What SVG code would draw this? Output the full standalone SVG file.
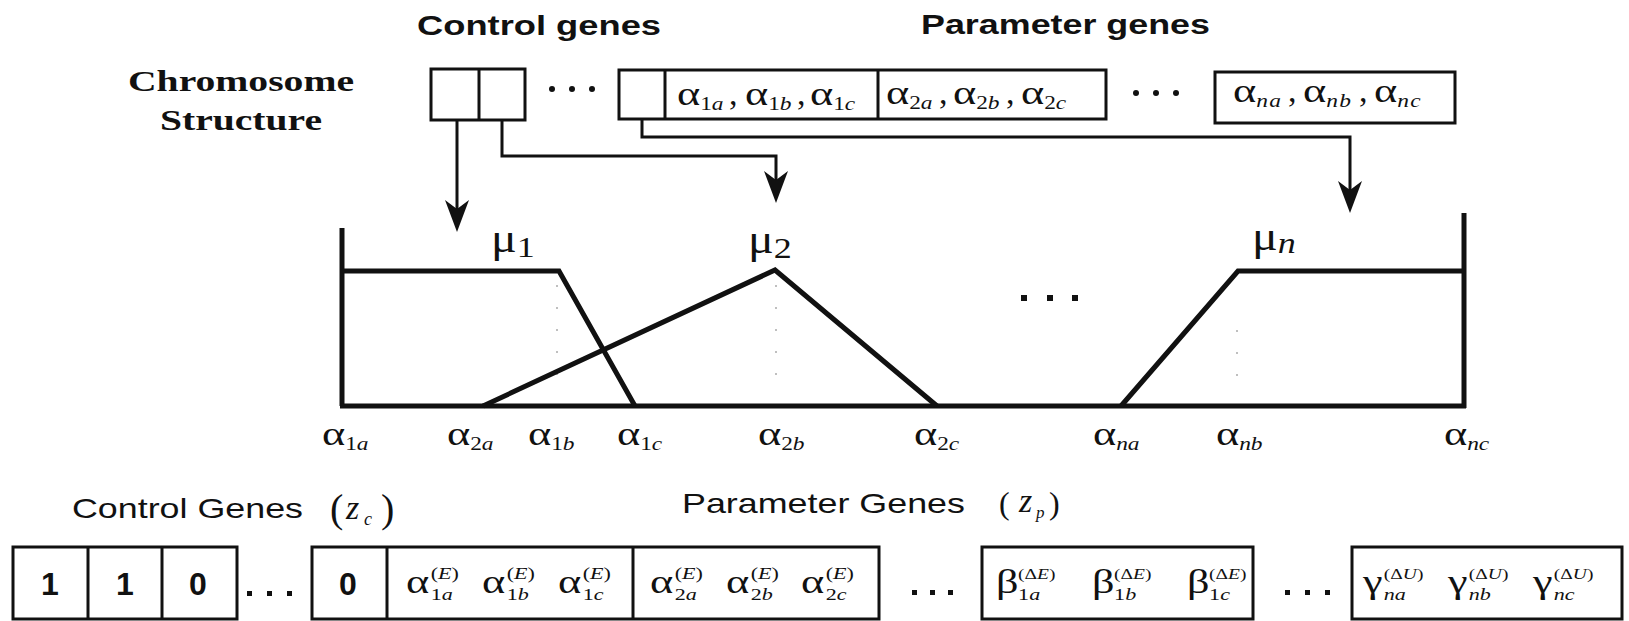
<svg xmlns="http://www.w3.org/2000/svg" width="1629" height="621" viewBox="0 0 1629 621">
<defs>
<style>
.hs{font-family:"Liberation Sans",Arial,sans-serif;font-weight:bold;font-size:28px;fill:#111}
.hl{font-family:"Liberation Sans",Arial,sans-serif;font-size:28px;fill:#111}
.tb{font-family:"Liberation Serif","Times New Roman",serif;font-weight:bold;font-size:30px;fill:#111}
.m{font-family:"Liberation Serif","Times New Roman",serif;fill:#111}
.i{font-style:italic}
.a34{font-size:34px}
.s18{font-size:18px}
.s17{font-size:17px}
.s15{font-size:15px}
.dg{font-family:"Liberation Sans",Arial,sans-serif;font-weight:bold;font-size:32px;fill:#111;text-anchor:middle}
.box{fill:none;stroke:#111;stroke-width:3}
.div{stroke:#111;stroke-width:3}
.conn{fill:none;stroke:#111;stroke-width:3}
.curve{fill:none;stroke:#111;stroke-width:5;stroke-linejoin:miter}
.guide{stroke:#aaa;stroke-width:1.5;stroke-dasharray:2 20}
.dot{fill:#111}
</style>
<marker id="arr" markerUnits="userSpaceOnUse" markerWidth="32" markerHeight="26" viewBox="0 0 32 26" refX="26" refY="13" orient="auto">
<path d="M0,1 L32,13 L0,25 L9,13 Z" fill="#111"/>
</marker>
</defs>
<rect width="1629" height="621" fill="#fff"/>

<g id="titles">
<text class="hs" x="417" y="35" textLength="244" lengthAdjust="spacingAndGlyphs">Control genes</text>
<text class="hs" x="921" y="34" textLength="289" lengthAdjust="spacingAndGlyphs">Parameter genes</text>
</g>

<g id="chromosome-label">
<text class="tb" x="128" y="91" textLength="226" lengthAdjust="spacingAndGlyphs">Chromosome</text>
<text class="tb" x="160" y="130" textLength="162" lengthAdjust="spacingAndGlyphs">Structure</text>
</g>

<g id="top-control-genes">
<rect class="box" x="431" y="69" width="94" height="51"/>
<line class="div" x1="479" y1="69" x2="479" y2="120"/>
<circle class="dot" cx="552" cy="89" r="3"/><circle class="dot" cx="572" cy="89" r="3"/><circle class="dot" cx="592" cy="89" r="3"/>
</g>

<g id="top-parameter-genes">
<rect class="box" x="619" y="70" width="487" height="49"/>
<line class="div" x1="665" y1="70" x2="665" y2="119"/>
<line class="div" x1="878" y1="70" x2="878" y2="119"/>
<g transform="translate(677,105) scale(1.3,1)"><text class="m a34">α<tspan class="s18" dy="5">1<tspan class="i">a</tspan></tspan></text></g>
<text class="m a34" x="729" y="105">,</text>
<g transform="translate(745,105) scale(1.3,1)"><text class="m a34">α<tspan class="s18" dy="5">1<tspan class="i">b</tspan></tspan></text></g>
<text class="m a34" x="797" y="105">,</text>
<g transform="translate(810,105) scale(1.3,1)"><text class="m a34">α<tspan class="s18" dy="5">1<tspan class="i">c</tspan></tspan></text></g>
<g transform="translate(886,104) scale(1.3,1)"><text class="m a34">α<tspan class="s18" dy="5">2<tspan class="i">a</tspan></tspan></text></g>
<text class="m a34" x="939" y="104">,</text>
<g transform="translate(953,104) scale(1.3,1)"><text class="m a34">α<tspan class="s18" dy="5">2<tspan class="i">b</tspan></tspan></text></g>
<text class="m a34" x="1006" y="104">,</text>
<g transform="translate(1021,104) scale(1.3,1)"><text class="m a34">α<tspan class="s18" dy="5">2<tspan class="i">c</tspan></tspan></text></g>
<circle class="dot" cx="1136" cy="93" r="3"/><circle class="dot" cx="1156" cy="93" r="3"/><circle class="dot" cx="1176" cy="93" r="3"/>
</g>

<g id="top-parameter-genes-n">
<rect class="box" x="1215" y="72" width="240" height="51"/>
<g transform="translate(1233,102) scale(1.3,1)"><text class="m a34">α<tspan class="s18 i" dy="5" letter-spacing="1">na</tspan></text></g>
<text class="m a34" x="1288" y="102">,</text>
<g transform="translate(1303,102) scale(1.3,1)"><text class="m a34">α<tspan class="s18 i" dy="5" letter-spacing="1">nb</tspan></text></g>
<text class="m a34" x="1359" y="102">,</text>
<g transform="translate(1374,102) scale(1.3,1)"><text class="m a34">α<tspan class="s18 i" dy="5" letter-spacing="1">nc</tspan></text></g>
</g>

<g id="connectors">
<path class="conn" d="M457,120 V226" marker-end="url(#arr)"/>
<path class="conn" d="M502,120 V156 H776 V197" marker-end="url(#arr)"/>
<path class="conn" d="M642,119 V137 H1350 V207" marker-end="url(#arr)"/>
</g>

<g id="membership-chart">
<line class="guide" x1="557" y1="285" x2="557" y2="392"/>
<line class="guide" x1="776" y1="285" x2="776" y2="392"/>
<line class="guide" x1="1237" y1="330" x2="1237" y2="392"/>
<path class="curve" d="M342,228 V406"/>
<path class="curve" d="M340,406 H1466"/>
<path class="curve" d="M1464,213 V408"/>
<path class="curve" d="M342,271 H559 L635,406"/>
<path class="curve" d="M483,406 L775,270 L937,406"/>
<path class="curve" d="M1121,406 L1238,271 H1464"/>
<rect class="dot" x="1021" y="295" width="6" height="6"/><rect class="dot" x="1047" y="295" width="6" height="6"/><rect class="dot" x="1072" y="295" width="6" height="6"/>
<g transform="translate(491,252) scale(1.2,1)"><text class="m" font-size="40">μ<tspan font-size="30" dy="5">1</tspan></text></g>
<g transform="translate(748,253) scale(1.2,1)"><text class="m" font-size="40">μ<tspan font-size="30" dy="5">2</tspan></text></g>
<g transform="translate(1252,250) scale(1.2,1)"><text class="m" font-size="40">μ<tspan class="i" font-size="30" dy="3">n</tspan></text></g>
</g>

<g id="axis-labels">
<g transform="translate(322,445) scale(1.3,1)"><text class="m a34">α<tspan class="s18" dy="5">1<tspan class="i">a</tspan></tspan></text></g>
<g transform="translate(447,445) scale(1.3,1)"><text class="m a34">α<tspan class="s18" dy="5">2<tspan class="i">a</tspan></tspan></text></g>
<g transform="translate(528,445) scale(1.3,1)"><text class="m a34">α<tspan class="s18" dy="5">1<tspan class="i">b</tspan></tspan></text></g>
<g transform="translate(617,445) scale(1.3,1)"><text class="m a34">α<tspan class="s18" dy="5">1<tspan class="i">c</tspan></tspan></text></g>
<g transform="translate(758,445) scale(1.3,1)"><text class="m a34">α<tspan class="s18" dy="5">2<tspan class="i">b</tspan></tspan></text></g>
<g transform="translate(914,445) scale(1.3,1)"><text class="m a34">α<tspan class="s18" dy="5">2<tspan class="i">c</tspan></tspan></text></g>
<g transform="translate(1093,445) scale(1.3,1)"><text class="m a34">α<tspan class="s18 i" dy="5">na</tspan></text></g>
<g transform="translate(1216,445) scale(1.3,1)"><text class="m a34">α<tspan class="s18 i" dy="5">nb</tspan></text></g>
<g transform="translate(1444,445) scale(1.3,1)"><text class="m a34">α<tspan class="s18 i" dy="5">nc</tspan></text></g>
</g>

<g id="bottom-labels">
<text class="hl" x="72" y="518" textLength="231" lengthAdjust="spacingAndGlyphs">Control Genes</text>
<text class="m" x="330" y="522" font-size="40">(</text>
<text class="m i" x="346" y="519" font-size="34">z</text>
<text class="m i" x="364" y="525" font-size="18">c</text>
<text class="m" x="381" y="522" font-size="40">)</text>
<text class="hl" x="682" y="513" textLength="283" lengthAdjust="spacingAndGlyphs">Parameter Genes</text>
<text class="m" x="999" y="514" font-size="32">(</text>
<text class="m i" x="1019" y="512" font-size="34">z</text>
<text class="m i" x="1036" y="518" font-size="17">p</text>
<text class="m" x="1049" y="514" font-size="32">)</text>
</g>

<g id="bottom-control-genes">
<rect class="box" x="13" y="547" width="224" height="72"/>
<line class="div" x1="88" y1="547" x2="88" y2="619"/>
<line class="div" x1="162" y1="547" x2="162" y2="619"/>
<text class="dg" x="50" y="595">1</text>
<text class="dg" x="125" y="595">1</text>
<text class="dg" x="198" y="595">0</text>
<rect class="dot" x="247" y="591" width="5" height="5"/><rect class="dot" x="267" y="591" width="5" height="5"/><rect class="dot" x="287" y="591" width="5" height="5"/>
</g>

<g id="bottom-parameter-genes">
<rect class="box" x="312" y="547" width="567" height="72"/>
<line class="div" x1="387" y1="547" x2="387" y2="619"/>
<line class="div" x1="633" y1="547" x2="633" y2="619"/>
<text class="dg" x="348" y="595">0</text>
<g transform="translate(406,593) scale(1.3,1)"><text class="m a34">α</text><text class="m s17" x="19" y="-14">(<tspan class="i">E</tspan>)</text><text class="m s17" x="19" y="7">1<tspan class="i">a</tspan></text></g>
<g transform="translate(482,593) scale(1.3,1)"><text class="m a34">α</text><text class="m s17" x="19" y="-14">(<tspan class="i">E</tspan>)</text><text class="m s17" x="19" y="7">1<tspan class="i">b</tspan></text></g>
<g transform="translate(558,593) scale(1.3,1)"><text class="m a34">α</text><text class="m s17" x="19" y="-14">(<tspan class="i">E</tspan>)</text><text class="m s17" x="19" y="7">1<tspan class="i">c</tspan></text></g>
<g transform="translate(650,593) scale(1.3,1)"><text class="m a34">α</text><text class="m s17" x="19" y="-14">(<tspan class="i">E</tspan>)</text><text class="m s17" x="19" y="7">2<tspan class="i">a</tspan></text></g>
<g transform="translate(726,593) scale(1.3,1)"><text class="m a34">α</text><text class="m s17" x="19" y="-14">(<tspan class="i">E</tspan>)</text><text class="m s17" x="19" y="7">2<tspan class="i">b</tspan></text></g>
<g transform="translate(801,593) scale(1.3,1)"><text class="m a34">α</text><text class="m s17" x="19" y="-14">(<tspan class="i">E</tspan>)</text><text class="m s17" x="19" y="7">2<tspan class="i">c</tspan></text></g>
<rect class="dot" x="912" y="590" width="5" height="5"/><rect class="dot" x="930" y="590" width="5" height="5"/><rect class="dot" x="948" y="590" width="5" height="5"/>
</g>

<g id="bottom-beta-genes">
<rect class="box" x="982" y="547" width="271" height="72"/>
<g transform="translate(996,593) scale(1.3,1)"><text class="m a34">β</text><text class="m s15" x="17" y="-14">(Δ<tspan class="i">E</tspan>)</text><text class="m s17" x="17" y="7">1<tspan class="i">a</tspan></text></g>
<g transform="translate(1092,593) scale(1.3,1)"><text class="m a34">β</text><text class="m s15" x="17" y="-14">(Δ<tspan class="i">E</tspan>)</text><text class="m s17" x="17" y="7">1<tspan class="i">b</tspan></text></g>
<g transform="translate(1187,593) scale(1.3,1)"><text class="m a34">β</text><text class="m s15" x="17" y="-14">(Δ<tspan class="i">E</tspan>)</text><text class="m s17" x="17" y="7">1<tspan class="i">c</tspan></text></g>
<rect class="dot" x="1285" y="590" width="5" height="5"/><rect class="dot" x="1305" y="590" width="5" height="5"/><rect class="dot" x="1325" y="590" width="5" height="5"/>
</g>

<g id="bottom-gamma-genes">
<rect class="box" x="1352" y="547" width="270" height="72"/>
<g transform="translate(1363,593) scale(1.3,1)"><text class="m a34">γ</text><text class="m s15" x="16" y="-14">(Δ<tspan class="i">U</tspan>)</text><text class="m s17 i" x="16" y="7">na</text></g>
<g transform="translate(1448,593) scale(1.3,1)"><text class="m a34">γ</text><text class="m s15" x="16" y="-14">(Δ<tspan class="i">U</tspan>)</text><text class="m s17 i" x="16" y="7">nb</text></g>
<g transform="translate(1533,593) scale(1.3,1)"><text class="m a34">γ</text><text class="m s15" x="16" y="-14">(Δ<tspan class="i">U</tspan>)</text><text class="m s17 i" x="16" y="7">nc</text></g>
</g>
</svg>
